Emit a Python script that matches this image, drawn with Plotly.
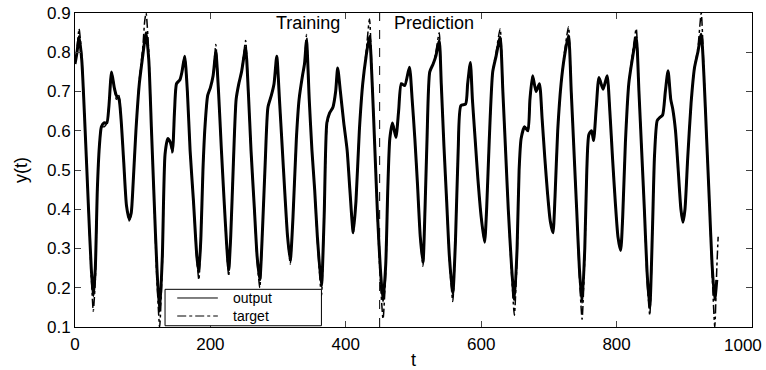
import plotly.graph_objects as go

t_values = [0, 3, 6, 10, 15, 20, 24, 27, 30, 33, 36, 39, 43, 47, 50, 54, 58, 61, 65, 68, 72, 76, 80, 83, 86, 90, 95, 100, 103, 105,
            109, 113, 117, 121, 125, 129, 133, 137, 141, 144, 147, 150, 155, 158, 162, 166, 170, 175, 180, 183, 186, 189, 192, 196, 200,
            204, 208, 212, 216, 220, 224, 227, 230, 234, 238, 242, 246, 252, 256, 260, 265, 269, 273, 277, 281, 285, 290, 294, 298, 302,
            306, 310, 314, 318, 322, 327, 331, 336, 339, 342, 346, 350, 354, 358, 364, 368, 372, 376, 381, 385, 388, 392, 397, 402, 406,
            411, 415, 420, 425, 430, 435, 439, 443, 447, 451, 455, 459, 462, 465, 469, 474, 478, 482, 487, 494, 498, 502, 506, 510, 514,
            517, 520, 524, 529, 533, 538, 541, 545, 549, 553, 558, 562, 566, 570, 577, 580, 584, 587, 591, 595, 600, 605, 608, 612, 617,
            622, 628, 632, 636, 640, 645, 649, 653, 656, 659, 664, 669, 672, 676, 681, 686, 690, 694, 698, 702, 706, 709, 713, 718, 723,
            729, 733, 737, 741, 745, 749, 753, 756, 759, 763, 766, 770, 774, 780, 786, 790, 794, 798, 802, 806, 809, 813, 818, 823, 829,
            833, 837, 841, 845, 849, 853, 856, 860, 864, 868, 872, 876, 880, 883, 887, 891, 895, 898, 901, 905, 910, 915, 920, 925, 929,
            933, 937, 941, 945, 948, 950]

output_values = [0.77, 0.80, 0.84, 0.78, 0.60, 0.40, 0.25, 0.18, 0.25, 0.45, 0.56, 0.61, 0.62, 0.62, 0.66, 0.75, 0.71, 0.69, 0.68, 0.63,
                 0.52, 0.41, 0.375, 0.39, 0.47, 0.60, 0.72, 0.79, 0.83, 0.85,
                 0.78, 0.60, 0.42, 0.25, 0.14, 0.28, 0.54, 0.58, 0.57, 0.55, 0.65, 0.72, 0.73, 0.75, 0.79, 0.70, 0.55, 0.42, 0.28, 0.24,
                 0.33, 0.50, 0.61, 0.69, 0.71,
                 0.74, 0.80, 0.70, 0.56, 0.43, 0.31, 0.245, 0.33, 0.52, 0.68, 0.72, 0.75, 0.81, 0.70, 0.55, 0.40, 0.28, 0.22, 0.35, 0.52,
                 0.66, 0.69, 0.72, 0.79, 0.68,
                 0.56, 0.44, 0.33, 0.27, 0.38, 0.58, 0.68, 0.74, 0.77, 0.83, 0.68, 0.55, 0.45, 0.33, 0.205, 0.38, 0.62, 0.645, 0.66, 0.70,
                 0.76, 0.70, 0.62, 0.55, 0.45,
                 0.34, 0.42, 0.60, 0.72, 0.79, 0.84, 0.72, 0.55, 0.38, 0.25, 0.167, 0.26, 0.45, 0.58, 0.62, 0.583, 0.65, 0.72, 0.715, 0.762,
                 0.68, 0.58, 0.46, 0.33, 0.265,
                 0.40, 0.58, 0.75, 0.77, 0.79, 0.83, 0.72, 0.56, 0.42, 0.28, 0.185, 0.32, 0.55, 0.664, 0.668, 0.72, 0.774, 0.68, 0.58, 0.48,
                 0.38, 0.316, 0.40, 0.58, 0.75,
                 0.79, 0.838, 0.70, 0.55, 0.40, 0.25, 0.17, 0.30, 0.50, 0.58, 0.61, 0.60, 0.68, 0.74, 0.70, 0.72, 0.63, 0.53, 0.44, 0.37,
                 0.34, 0.43, 0.60, 0.72, 0.79,
                 0.842, 0.70, 0.55, 0.40, 0.25, 0.163, 0.30, 0.50, 0.59, 0.60, 0.575, 0.66, 0.736, 0.706, 0.74, 0.65, 0.53, 0.42, 0.33, 0.295,
                 0.38, 0.57, 0.72, 0.78, 0.838,
                 0.70, 0.55, 0.40, 0.24, 0.15, 0.35, 0.536, 0.626, 0.634, 0.64, 0.70, 0.753, 0.68, 0.655, 0.60, 0.50, 0.40, 0.367, 0.40, 0.53,
                 0.67, 0.76, 0.80, 0.846, 0.74,
                 0.58, 0.42, 0.26, 0.17, 0.22, None]

target_values = [0.77, 0.81, 0.86, 0.79, 0.60, 0.40, 0.23, 0.14, 0.22, 0.45, 0.56, 0.61, 0.61, 0.62, 0.66, 0.75, 0.71, 0.68, 0.69, 0.63,
                 0.52, 0.41, 0.37, 0.39, 0.47, 0.60, 0.73, 0.81, 0.88, 0.90,
                 0.80, 0.60, 0.41, 0.22, 0.10, 0.26, 0.54, 0.58, 0.57, 0.54, 0.65, 0.72, 0.73, 0.75, 0.79, 0.70, 0.55, 0.42, 0.27, 0.22,
                 0.33, 0.50, 0.61, 0.69, 0.71,
                 0.74, 0.82, 0.70, 0.56, 0.43, 0.30, 0.23, 0.33, 0.52, 0.68, 0.72, 0.75, 0.83, 0.70, 0.55, 0.40, 0.27, 0.20, 0.35, 0.52,
                 0.66, 0.69, 0.72, 0.79, 0.68,
                 0.56, 0.44, 0.33, 0.26, 0.38, 0.58, 0.68, 0.74, 0.77, 0.845, 0.68, 0.55, 0.45, 0.32, 0.18, 0.38, 0.61, 0.645, 0.66, 0.70,
                 0.76, 0.70, 0.62, 0.55, 0.45,
                 0.34, 0.42, 0.60, 0.72, 0.80, 0.885, 0.73, 0.55, 0.37, 0.22, 0.12, 0.24, 0.45, 0.58, 0.62, 0.583, 0.65, 0.72, 0.715, 0.762,
                 0.68, 0.58, 0.46, 0.33, 0.255,
                 0.40, 0.58, 0.75, 0.77, 0.80, 0.85, 0.72, 0.56, 0.42, 0.27, 0.165, 0.32, 0.55, 0.664, 0.668, 0.72, 0.774, 0.68, 0.58, 0.48,
                 0.38, 0.316, 0.40, 0.58, 0.75,
                 0.80, 0.86, 0.70, 0.55, 0.40, 0.23, 0.13, 0.28, 0.50, 0.58, 0.61, 0.60, 0.68, 0.74, 0.70, 0.72, 0.63, 0.53, 0.44, 0.37,
                 0.34, 0.43, 0.60, 0.72, 0.80,
                 0.865, 0.70, 0.55, 0.40, 0.23, 0.12, 0.28, 0.50, 0.59, 0.60, 0.575, 0.66, 0.736, 0.706, 0.74, 0.65, 0.53, 0.42, 0.33, 0.295,
                 0.38, 0.57, 0.72, 0.79, 0.86,
                 0.70, 0.55, 0.40, 0.22, 0.13, 0.35, 0.536, 0.626, 0.634, 0.64, 0.70, 0.753, 0.68, 0.655, 0.60, 0.50, 0.40, 0.367, 0.40, 0.53,
                 0.67, 0.76, 0.81, 0.90, 0.75,
                 0.58, 0.42, 0.24, 0.10, 0.25, 0.33]

split_t = 450
x_tick_values = [0, 200, 400, 600, 800, 1000]
x_tick_labels = ["0", "200", "400", "600", "800", "1000"]
y_tick_values = [0.1, 0.2, 0.3, 0.4, 0.5, 0.6, 0.7, 0.8, 0.9]
y_tick_labels = ["0.1", "0.2", "0.3", "0.4", "0.5", "0.6", "0.7", "0.8", "0.9"]
legend_names = ["output", "target"]

FONT = "Liberation Sans, Arial, Helvetica, sans-serif"

fig = go.Figure()
fig.add_trace(go.Scatter(x=t_values, y=output_values, mode="lines", name=legend_names[0], showlegend=False,
                         line=dict(color="black", width=3, shape="spline", smoothing=0.6), connectgaps=False))
fig.add_trace(go.Scatter(x=t_values, y=target_values, mode="lines", name=legend_names[1], showlegend=False,
                         line=dict(color="black", width=1.5, dash="dashdot", shape="spline", smoothing=0.6)))

fig.add_vline(x=split_t, line=dict(color="black", width=1, dash="dash"))

fig.add_annotation(x=394, y=0.967, xref="x", yref="paper", text="Training", showarrow=False,
                   xanchor="right", yanchor="middle", font=dict(size=18, color="black", family=FONT))
fig.add_annotation(x=468, y=0.967, xref="x", yref="paper", text="Prediction", showarrow=False,
                   xanchor="left", yanchor="middle", font=dict(size=18, color="black", family=FONT))

# last x tick label, kept inside the page like in the reference
fig.add_annotation(x=x_tick_values[-1], y=0, xref="x", yref="paper", text=x_tick_labels[-1], showarrow=False,
                   xanchor="right", yanchor="top", xshift=12, yshift=-7,
                   font=dict(size=17, color="black", family=FONT))

# legend (drawn as frame + sample lines + real text)
fig.add_shape(type="rect", xref="paper", yref="paper", x0=0.133, x1=0.364, y0=0.004, y1=0.12,
              line=dict(color="black", width=1), fillcolor="white", layer="above")
legend_rows_y = [0.0924, 0.035]
legend_dashes = ["solid", "dashdot"]
for name, yy, dsh in zip(legend_names, legend_rows_y, legend_dashes):
    fig.add_shape(type="line", xref="paper", yref="paper", x0=0.151, x1=0.211, y0=yy, y1=yy,
                  line=dict(color="black", width=1, dash=dsh), layer="above")
    fig.add_annotation(x=0.232, y=yy, xref="paper", yref="paper", text=name, showarrow=False,
                       xanchor="left", yanchor="middle", borderpad=0,
                       font=dict(size=14, color="black", family=FONT))

fig.update_layout(
    width=766, height=370,
    margin=dict(l=75, r=14, t=13, b=43, autoexpand=False),
    paper_bgcolor="white", plot_bgcolor="white",
    font=dict(family=FONT, size=17, color="black"),
    showlegend=False,
    xaxis=dict(range=[0, 1000], tickvals=x_tick_values, ticktext=x_tick_labels[:-1] + [""],
               ticks="inside", ticklen=6, mirror="ticks",
               showline=True, linecolor="black", linewidth=1, showgrid=False, zeroline=False,
               ticklabeloverflow="allow", ticklabelstandoff=2, automargin=False,
               title=dict(text="t", font=dict(size=18), standoff=0), tickfont=dict(size=17)),
    yaxis=dict(range=[0.1, 0.9], tickvals=y_tick_values, ticktext=y_tick_labels, ticks="inside", ticklen=6,
               mirror="ticks", showline=True, linecolor="black", linewidth=1, showgrid=False, zeroline=False,
               ticklabeloverflow="allow", automargin=False,
               title=dict(text="y(t)", font=dict(size=18), standoff=14), tickfont=dict(size=17)),
)

fig.write_html("out.html", config={"displayModeBar": False},
               post_script="document.body.style.margin='0px';document.body.style.overflow='hidden';")
